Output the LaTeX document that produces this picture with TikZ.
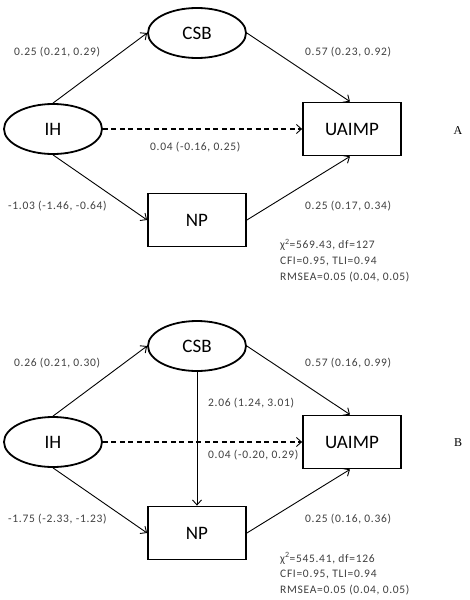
\documentclass[tikz,border=0pt]{standalone}
\usepackage{fontspec}
\setmainfont{Carlito}
\newfontfamily\spaced{Carlito}[LetterSpace=6]
\newfontfamily\serifletter{Liberation Serif}
\usetikzlibrary{shapes.geometric,arrows.meta}
\tikzset{
  latent/.style={ellipse,draw,line width=1.8pt,minimum width=98pt,minimum height=50pt,inner sep=0pt,font=\fontsize{19}{22}\selectfont},
  observed/.style={rectangle,draw,line width=1.8pt,minimum width=98pt,minimum height=53pt,inner sep=0pt,font=\fontsize{19}{22}\selectfont},
  path/.style={line width=0.9pt,-{Straight Barb[length=5pt,width=9pt,line width=0.9pt]}},
  dpath/.style={path,dashed,dash pattern=on 5pt off 3.5pt,line width=1.1pt},
  coef/.style={anchor=west,inner sep=0pt,text=black!75,font=\spaced\fontsize{11.5}{13}\selectfont},
  fit/.style={anchor=west,inner sep=0pt,text=black!75,align=left,font=\spaced\fontsize{11.5}{16}\selectfont},
  panel/.style={inner sep=0pt,font=\serifletter\fontsize{12}{14}\selectfont}
}
\begin{document}
\begin{tikzpicture}[x=1pt,y=-1pt]
\useasboundingbox[fill=white] (0,0) rectangle (470,600);
% Panel A
\node[latent] (csbA) at (197,33) {CSB};
\node[latent] (ihA) at (53,129) {IH};
\node[observed] (uaA) at (352,129) {UAIMP};
\node[observed] (npA) at (197,220) {NP};
\draw[path] (ihA.north) -- (csbA.west);
\draw[path] (csbA.east) -- ([xshift=-2pt]uaA.north);
\draw[dpath] (ihA.east) -- (uaA.west);
\draw[path] (ihA.south) -- (npA.west);
\draw[path] (npA.east) -- ([xshift=-2pt]uaA.south);
\node[coef] (la1) at (14,52) {0.25 (0.21, 0.29)};
\node[coef] (la2) at (305,52) {0.57 (0.23, 0.92)};
\node[coef] (la3) at (150,147) {0.04 (-0.16, 0.25)};
\node[coef] (la4) at (8,206) {-1.03 (-1.46, -0.64)};
\node[coef] (la5) at (305,206) {0.25 (0.17, 0.34)};
\node[fit] (fitA) at (280,261) {χ\textsuperscript{2}=569.43, df=127\\CFI=0.95, TLI=0.94\\RMSEA=0.05 (0.04, 0.05)};
\node[panel] (pA) at (458,131) {A};
% Panel B
\node[latent] (csbB) at (197,346) {CSB};
\node[latent] (ihB) at (53,442) {IH};
\node[observed] (uaB) at (352,442) {UAIMP};
\node[observed] (npB) at (197,533) {NP};
\draw[path] (ihB.north) -- (csbB.west);
\draw[path] (csbB.east) -- ([xshift=-2pt]uaB.north);
\draw[dpath] (ihB.east) -- (uaB.west);
\draw[path] (ihB.south) -- (npB.west);
\draw[path] (npB.east) -- ([xshift=-2pt]uaB.south);
\draw[path] (csbB.south) -- (npB.north);
\node[coef] (lb1) at (14,363) {0.26 (0.21, 0.30)};
\node[coef] (lb2) at (305,363) {0.57 (0.16, 0.99)};
\node[coef] (lb3) at (208,403) {2.06 (1.24, 3.01)};
\node[coef] (lb4) at (208,455) {0.04 (-0.20, 0.29)};
\node[coef] (lb5) at (8,519) {-1.75 (-2.33, -1.23)};
\node[coef] (lb6) at (305,519) {0.25 (0.16, 0.36)};
\node[fit] (fitB) at (280,574) {χ\textsuperscript{2}=545.41, df=126\\CFI=0.95, TLI=0.94\\RMSEA=0.05 (0.04, 0.05)};
\node[panel] (pB) at (458,443) {B};
\end{tikzpicture}
\end{document}
